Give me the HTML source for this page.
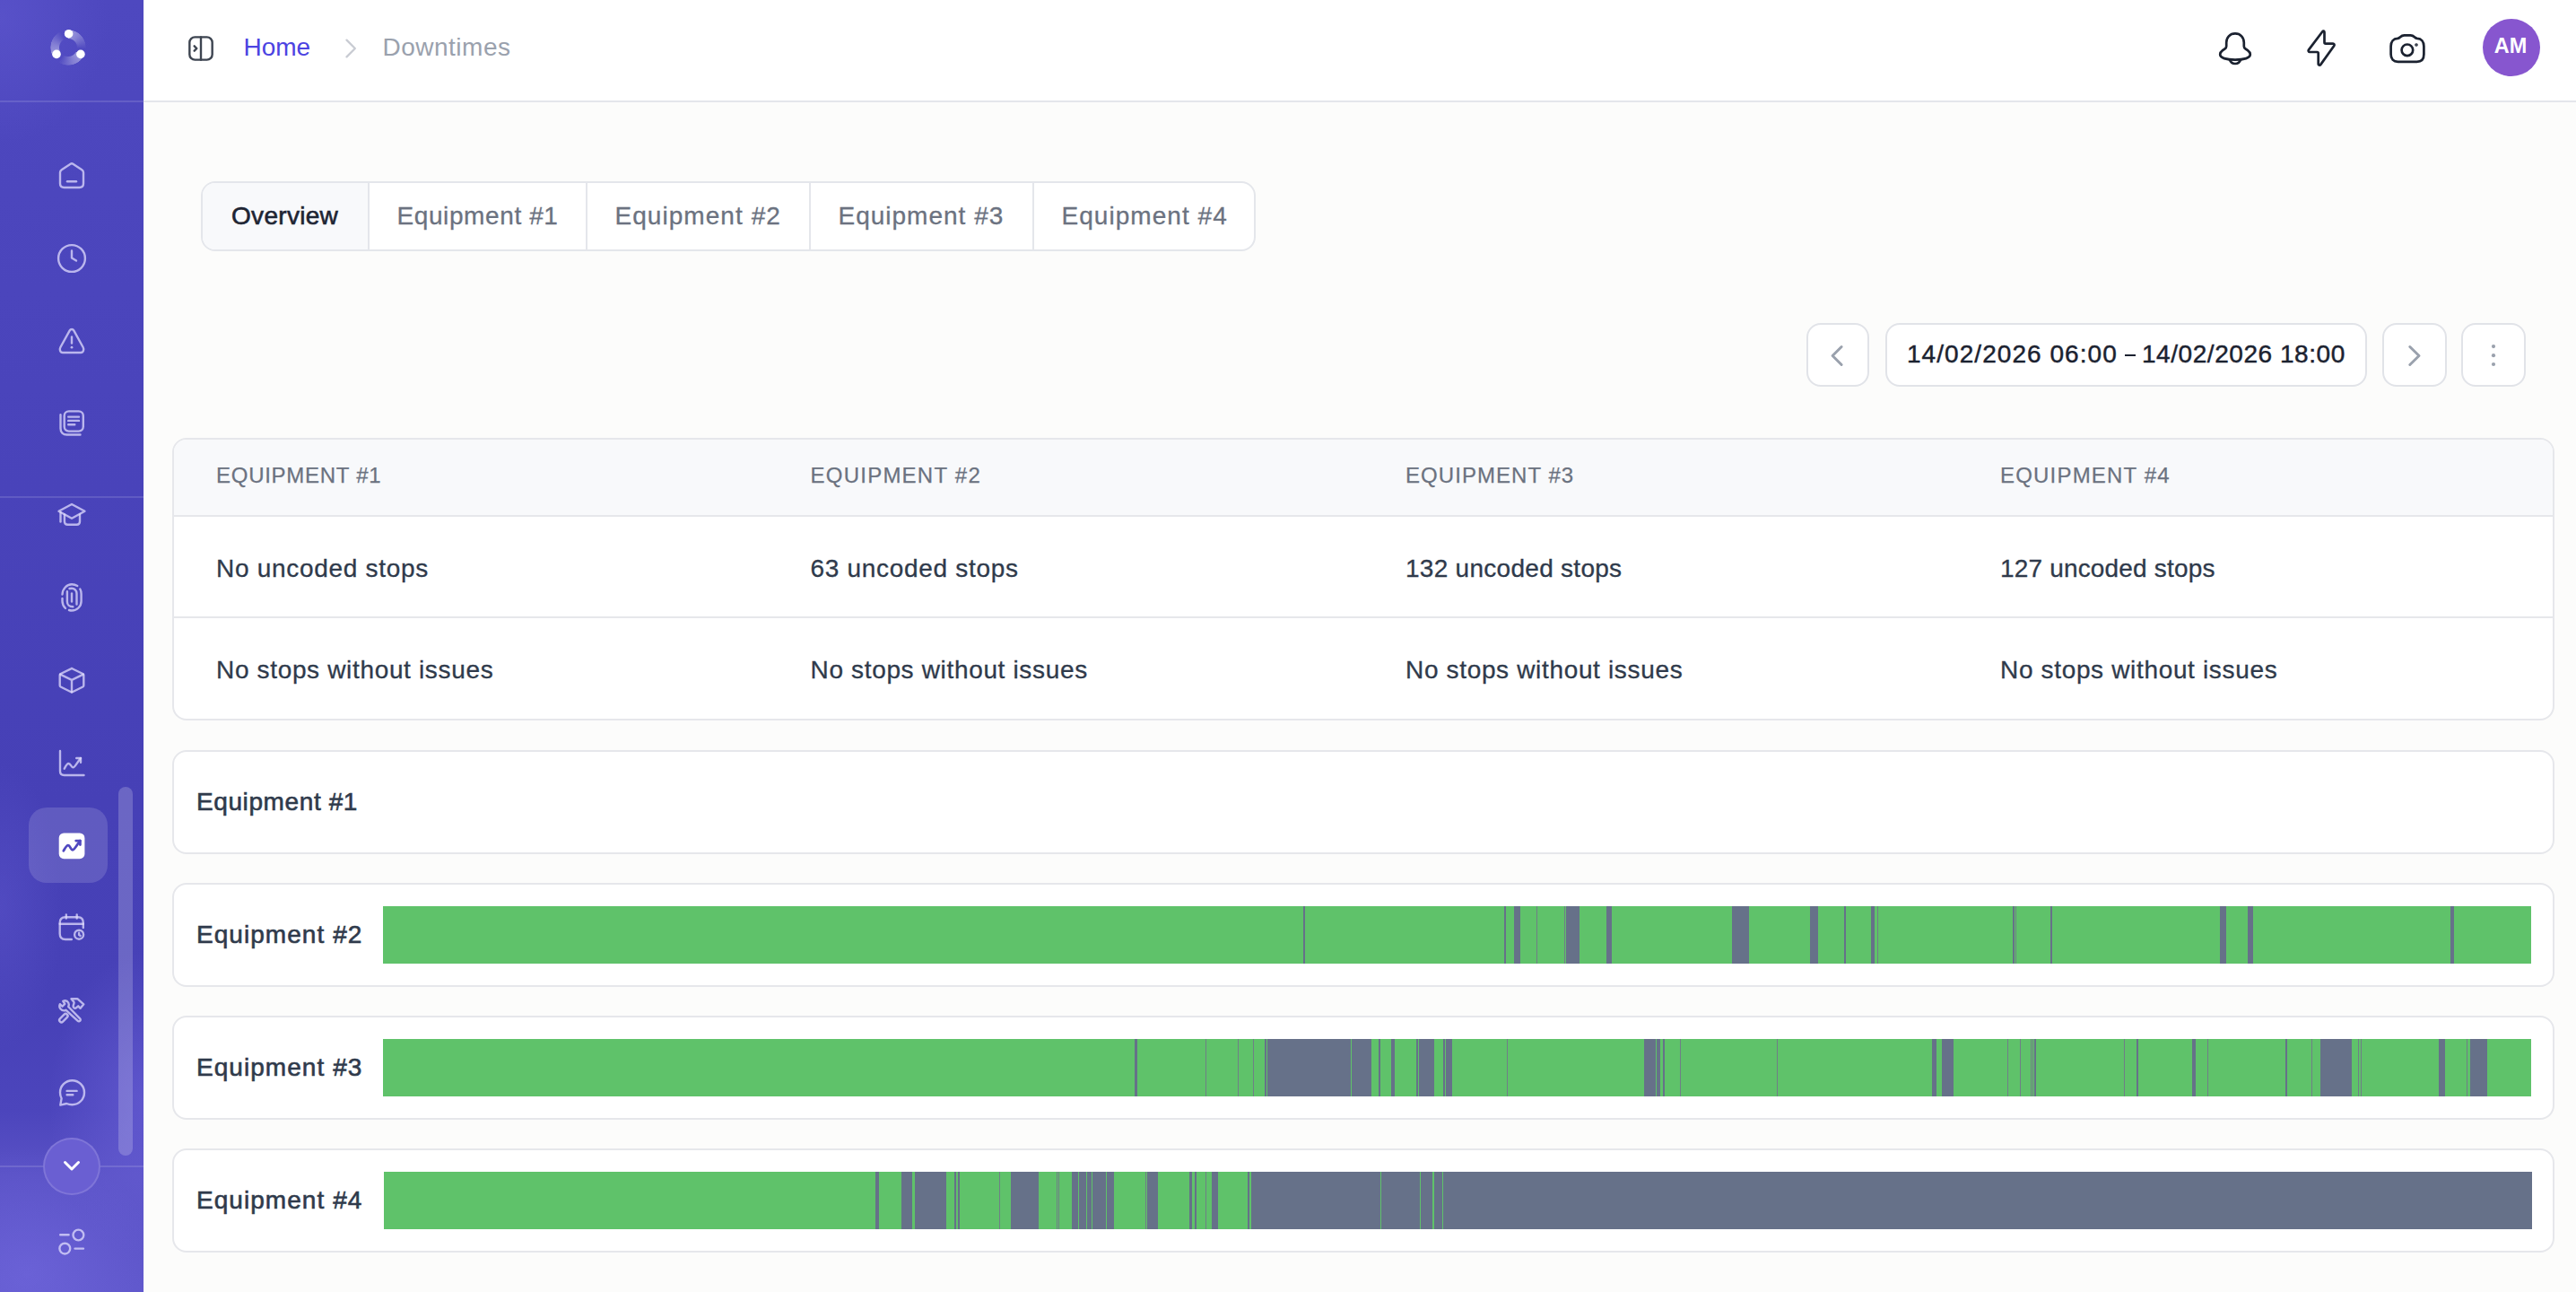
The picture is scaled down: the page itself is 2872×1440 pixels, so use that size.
<!DOCTYPE html>
<html><head><meta charset="utf-8"><style>
*{box-sizing:border-box;margin:0;padding:0}
html,body{width:2872px;height:1440px;overflow:hidden;background:#fcfcfb;font-family:"Liberation Sans",sans-serif}
.side{position:absolute;left:0;top:0;width:160px;height:1440px;overflow:hidden;
background:radial-gradient(ellipse 120px 140px at 0px 20px,rgba(100,92,212,.45),rgba(100,92,212,0)),radial-gradient(ellipse 110px 170px at 165px 1230px,rgba(112,102,220,.55),rgba(112,102,220,0)),radial-gradient(ellipse 150px 140px at 30px 1420px,rgba(118,108,226,.5),rgba(118,108,226,0)),radial-gradient(ellipse 70px 160px at 0px 1010px,rgba(100,92,210,.35),rgba(100,92,210,0)),linear-gradient(180deg,#4e48bf 0%,#4a44bb 30%,#4640b6 62%,#4741b7 78%,#4c45bc 86%,#5a52c6 91%,#5f57cb 100%)}
.side .hl{position:absolute;left:0;width:160px;height:2px;background:rgba(255,255,255,.13)}
.sic{position:absolute;left:60px;width:40px;height:40px;color:rgba(222,218,252,.76)}
.sic svg{width:40px;height:40px;display:block}
.active{position:absolute;left:32px;top:900px;width:88px;height:84px;border-radius:20px;background:rgba(255,255,255,.14)}
.scroll{position:absolute;left:132px;top:877px;width:16px;height:411px;border-radius:8px;background:rgba(255,255,255,.2)}
.chev{position:absolute;left:48px;top:1268px;width:64px;height:64px;border-radius:50%;background:#6a5fd2;border:2px solid rgba(255,255,255,.14)}
.header{position:absolute;left:160px;top:0;width:2712px;height:114px;background:#fff;border-bottom:2px solid #e4e6eb}
.t{position:absolute;white-space:nowrap;line-height:1}
.tabs{position:absolute;left:224px;top:202px;height:78px;border:2px solid #e4e6eb;border-radius:16px;background:#fff;overflow:hidden;display:flex}
.tab{height:74px;border-right:2px solid #e4e6eb;position:relative}
.tab:last-child{border-right:none}
.btn{position:absolute;top:360px;height:71px;border:2px solid #e1e3e8;border-radius:16px;background:#fff}
.table{position:absolute;left:192px;top:488px;width:2656px;height:315px;border:2px solid #e6e7eb;border-radius:16px;background:#fff;overflow:hidden}
.thead{position:absolute;left:0;top:0;width:100%;height:86px;background:#f8f9fb;border-bottom:2px solid #e6e7eb}
.rowb{position:absolute;left:0;width:100%;height:2px;background:#e6e7eb}
.panel{position:absolute;left:192px;width:2656px;height:116px;border:2px solid #e6e7eb;border-radius:16px;background:#fff}
.bar{position:absolute;height:64px;background:#5fc26a}
.seg{position:absolute;top:0;height:64px;background:#667189}
.thin{background:#6f7f86}
.hic{position:absolute;top:32px;width:44px;height:44px;color:#1b2230}
.hic svg{width:44px;height:44px;display:block}
</style></head><body>
<div class="side">
<div style="position:absolute;left:56.2px;top:32.7px;width:40px;height:40px;border-radius:50%;background:conic-gradient(from 0deg,rgba(255,255,255,.45) 0deg,rgba(255,255,255,.3) 40deg,rgba(255,255,255,0) 95deg,rgba(255,255,255,0) 120deg,rgba(255,255,255,.45) 120deg,rgba(255,255,255,.3) 160deg,rgba(255,255,255,0) 215deg,rgba(255,255,255,0) 240deg,rgba(255,255,255,.45) 240deg,rgba(255,255,255,.3) 280deg,rgba(255,255,255,0) 335deg,rgba(255,255,255,0) 360deg);-webkit-mask:radial-gradient(circle closest-side,transparent 9.5px,#000 10.5px,#000 19.3px,transparent 20px);mask:radial-gradient(circle closest-side,transparent 9.5px,#000 10.5px,#000 19.3px,transparent 20px)"></div>
<svg style="position:absolute;left:46px;top:23px" width="60" height="60" viewBox="0 0 60 60"><circle cx="30.6" cy="14.7" r="4.8" fill="#fff"/><circle cx="17" cy="37.4" r="4.8" fill="#fff"/><circle cx="43.9" cy="37.4" r="4.8" fill="#fff"/></svg>
<div class="hl" style="top:112px"></div>
<div class="hl" style="top:553px"></div>
<div class="hl" style="top:1299px"></div>
<div class="active"></div>
<div class="scroll"></div>
<div class="sic" style="top:175px"><svg viewBox="0 0 40 40" fill="none" stroke="currentColor" stroke-width="2.4" stroke-linecap="round" stroke-linejoin="round"><path d="M18.6 7.8 L8.7 14.2 C7.6 14.9 7 16 7 17.3 V29.5 C7 32.3 8.8 34 11.5 34 H28.5 C31.2 34 33 32.3 33 29.5 V17.3 C33 16 32.4 14.9 31.3 14.2 L21.4 7.8 C20.5 7.2 19.5 7.2 18.6 7.8 Z"/><path d="M15 27.3 H25"/></svg></div><div class="sic" style="top:268px"><svg viewBox="0 0 40 40" fill="none" stroke="currentColor" stroke-width="2.4" stroke-linecap="round" stroke-linejoin="round"><circle cx="20" cy="20" r="14.9"/><path d="M20 11.5 V19.5 L25 22.6"/></svg></div><div class="sic" style="top:360px"><svg viewBox="0 0 40 40" fill="none" stroke="currentColor" stroke-width="2.4" stroke-linecap="round" stroke-linejoin="round"><path d="M17.7 8.4 L7.4 27 C6.1 29.4 6.9 33 10 33 H30 C33.1 33 33.9 29.4 32.6 27 L22.3 8.4 C21.3 6.6 18.7 6.6 17.7 8.4 Z"/><path d="M20 15.5 V22.5"/><path d="M20 27.2 h0.01" stroke-width="2.8"/></svg></div><div class="sic" style="top:451px"><svg viewBox="0 0 40 40" fill="none" stroke="currentColor" stroke-width="2.4" stroke-linecap="round" stroke-linejoin="round"><path d="M7.5 11.2 V26.5 C7.5 30.8 10.2 33.5 14.5 33.5 H29.5"/><rect x="11.7" y="7.4" width="21.1" height="22.2" rx="5"/><path d="M16.2 13.6 H28 M16.2 17.9 H28 M16.2 22.3 H23.3"/></svg></div><div class="sic" style="top:553px"><svg viewBox="0 0 40 40" fill="none" stroke="currentColor" stroke-width="2.4" stroke-linecap="round" stroke-linejoin="round"><path d="M5.5 16.8 L20 9 L34.5 16.8 L20 24.8 Z"/><path d="M11.9 20.5 V28.2 C11.9 30.5 13.2 31.7 15.5 31.7 H25.5 C27.8 31.7 29 30.5 29 28.2 V20.5"/><path d="M7.5 18 V28.6"/></svg></div><div class="sic" style="top:646px"><svg viewBox="0 0 40 40" fill="none" stroke="currentColor" stroke-width="2.4" stroke-linecap="round" stroke-linejoin="round"><path d="M9.5 16.5 C9.8 10 14.5 5.3 20 5.3 C22.5 5.3 24.6 6 26.3 7"/><path d="M29.3 10.5 C30.2 12 30.6 14 30.6 16 V24 C30.6 30 25.8 34.5 20 34.5 C19 34.5 18 34.3 17 34"/><path d="M9.5 21 V24 C9.5 27 10.8 29.8 13 32"/><path d="M17.5 10 C18.3 9.8 19.2 9.7 20 9.7 C23 9.7 25.5 12.2 25.5 15.5 V27.5"/><path d="M14.9 13.2 V24.5 C14.9 27.8 17.3 30.3 21.3 30.3"/><path d="M20 15.5 V24.5"/></svg></div><div class="sic" style="top:738px"><svg viewBox="0 0 40 40" fill="none" stroke="currentColor" stroke-width="2.4" stroke-linecap="round" stroke-linejoin="round"><path d="M20 7 L32.4 13 C33 13.3 33.3 13.8 33.3 14.5 V26 C33.3 26.7 33 27.2 32.4 27.5 L20.8 33.3 C20.3 33.6 19.7 33.6 19.2 33.3 L7.6 27.5 C7 27.2 6.7 26.7 6.7 26 V14.5 C6.7 13.8 7 13.3 7.6 13 L19.2 7.3 C19.7 7 20.3 7 20.8 7.3 Z"/><path d="M7.2 13.6 L20 19.8 L32.8 13.6 M20 19.8 V33.3"/></svg></div><div class="sic" style="top:831px"><svg viewBox="0 0 40 40" fill="none" stroke="currentColor" stroke-width="2.4" stroke-linecap="round" stroke-linejoin="round"><path d="M7 6 V28.5 C7 31.5 8.5 33 11.5 33 H33.5"/><path d="M11.7 25.8 C13 23.3 14.5 20 16.5 20 C18.8 20 19.3 24.4 21.5 24.4 C23.5 24.4 25.5 19.5 30 14"/><path d="M25.2 14 H30 V18.8"/></svg></div><div class="sic" style="top:1014px"><svg viewBox="0 0 40 40" fill="none" stroke="currentColor" stroke-width="2.4" stroke-linecap="round" stroke-linejoin="round"><path d="M19.8 33 H13 C9 33 6.7 30.7 6.7 26.7 V14.5 C6.7 10.5 9 8.2 13 8.2 H27 C31 8.2 32.8 10.5 32.8 14.5 V20"/><path d="M6.7 15.8 H32.8 M13.8 5.5 V9.5 M25.7 5.5 V9.5"/><circle cx="28.1" cy="27.7" r="5"/><path d="M28.1 25.8 V27.9 L29.6 28.9"/></svg></div><div class="sic" style="top:1106px"><svg viewBox="0 0 40 40" fill="none" stroke="currentColor" stroke-width="2.4" stroke-linecap="round" stroke-linejoin="round"><path d="M10.3 9.8 C12.5 9 15 9.5 16.2 11.5 C17 13 16.8 15 16.2 16 L29.2 29.3 C30.2 30.3 29.8 31.8 28.6 32.2 C27.8 32.5 27 32.2 26.5 31.7 L13.6 19.8 C11.8 20.6 9 20.2 7.5 18.5 C6.3 17 6 15 6.8 13.2 L9.5 15.7 L12.3 13 Z"/><path d="M19.5 7.2 H26.3 L33.3 13.3 L29.6 17.8 L27.2 15.3 L24.5 17.6 C23 18 21.6 17 21.6 15.5 C21.6 13.5 23 12.5 22.5 11 Z"/><path d="M10.13 32.63 L14.83 27.93 A2.3 2.3 0 0 0 11.57 24.67 L6.87 29.37 A2.3 2.3 0 0 0 10.13 32.63 Z"/></svg></div><div class="sic" style="top:1198px"><svg viewBox="0 0 40 40" fill="none" stroke="currentColor" stroke-width="2.4" stroke-linecap="round" stroke-linejoin="round"><path d="M20.5 33.2 C28 33.2 34 27.2 34 19.7 C34 12.2 28 6.2 20.5 6.2 C13 6.2 7 12.2 7 19.7 C7 22 7.6 24.3 8.6 26.2 L7.3 33.6 L14.2 32 C16 32.8 18.2 33.2 20.5 33.2 Z"/><path d="M14.6 17.9 H25.6 M14.6 22.2 H21.3"/></svg></div><div class="sic" style="top:1364px"><svg viewBox="0 0 40 40" fill="none" stroke="currentColor" stroke-width="2.4" stroke-linecap="round" stroke-linejoin="round"><path d="M7.2 12.3 H16.6 M23.5 27.6 H33"/><circle cx="27.4" cy="12.5" r="5.9"/><circle cx="12.3" cy="27.6" r="5.9"/></svg></div>
<div style="position:absolute;left:60px;top:923px;width:40px;height:40px">
<svg width="40" height="40" viewBox="0 0 40 40"><rect x="5.7" y="5.5" width="28.7" height="28.7" rx="5.5" fill="#fff"/><path d="M10.8 25.4 C12.5 22.5 14 19.2 16 19.2 C18.3 19.2 18.8 24.3 21 24.3 C23 24.3 25.3 19.3 29.3 14" fill="none" stroke="#5048c0" stroke-width="2.8" stroke-linecap="round" stroke-linejoin="round"/><path d="M24.7 14.1 H29.4 V18.6" fill="none" stroke="#5048c0" stroke-width="2.8" stroke-linecap="round" stroke-linejoin="round"/></svg>
</div>
<div class="chev"><svg style="position:absolute;left:-2px;top:-2px" width="64" height="64" viewBox="0 0 64 64" fill="none" stroke="#fff" stroke-width="3" stroke-linecap="round" stroke-linejoin="round"><path d="M24.5 27.5 L32 35 L39.5 27.5"/></svg></div>
</div>

<div class="header">
<svg style="position:absolute;left:48px;top:38px" width="32" height="32" viewBox="0 0 24 24" fill="none" stroke="#3d4450" stroke-width="1.8" stroke-linecap="round" stroke-linejoin="round"><rect x="2.5" y="2.5" width="19" height="19" rx="4.5"/><path d="M12 2.5V21.5"/><path d="M6.5 10L8.5 12L6.5 14"/></svg>
<div class="t" style="left:111.5px;top:38.5px;font-size:28px;color:#4c43e2">Home</div>
<svg style="position:absolute;left:216px;top:40px" width="28" height="28" viewBox="0 0 24 24" fill="none" stroke="#c9ccd3" stroke-width="2" stroke-linecap="round" stroke-linejoin="round"><path d="M9 4L17 12L9 20"/></svg>
<div class="t" style="left:266.5px;top:38.5px;font-size:28px;letter-spacing:0.5px;color:#9aa1ad">Downtimes</div>
<svg style="position:absolute;left:2306px;top:28px" width="52" height="52" viewBox="0 0 52 52" fill="none" stroke="#1b2230" stroke-width="2.7" stroke-linecap="round" stroke-linejoin="round"><path d="M26 9.4 C20 9.4 16.2 13.8 16.2 19.5 V23.5 C16.2 24.7 15.6 25.6 14.6 26.3 L12 28.2 C10 29.7 9.2 31 9.2 32.6 C9.2 35 11.2 36.3 13.8 37.1 C17.5 38.2 21.7 38.6 26 38.6 C30.3 38.6 34.5 38.2 38.2 37.1 C40.8 36.3 42.8 35 42.8 32.6 C42.8 31 42 29.7 40 28.2 L37.4 26.3 C36.4 25.6 35.8 24.7 35.8 23.5 V19.5 C35.8 13.8 32 9.4 26 9.4 Z"/><path d="M19.8 38.4 C20.8 41.3 23.2 43 26 43 C28.8 43 31.2 41.3 32.2 38.4"/></svg>
<svg style="position:absolute;left:2402px;top:28px" width="52" height="52" viewBox="0 0 52 52" fill="none" stroke="#1b2230" stroke-width="2.7" stroke-linecap="round" stroke-linejoin="round"><path d="M27.3 7.2 L11.9 27.6 C11.2 28.6 11.9 30 13.1 30 H21.3 C22.1 30 22.7 30.6 22.7 31.4 V43.2 C22.7 44.6 24.4 45.2 25.2 44.1 L40.3 23 C41 22 40.3 20.6 39.1 20.6 H30.9 C30.1 20.6 29.5 20 29.5 19.2 V8 C29.5 6.5 28.1 6.1 27.3 7.2 Z"/></svg>
<svg style="position:absolute;left:2498px;top:28px" width="52" height="52" viewBox="0 0 52 52" fill="none" stroke="#1b2230" stroke-width="2.7" stroke-linecap="round" stroke-linejoin="round"><path d="M7.6 23.5 C7.6 18.5 10.5 15 15 14.8 C16.3 14.7 17.3 14 18.1 13.2 C19.4 11.9 20.8 11.3 22.6 11.3 H29.4 C31.2 11.3 32.6 11.9 33.9 13.2 C34.7 14 35.7 14.7 37 14.8 C41.5 15 44.4 18.5 44.4 23.5 V32.5 C44.4 37.7 41.6 40.8 36.5 40.8 H15.5 C10.4 40.8 7.6 37.7 7.6 32.5 Z"/><circle cx="25.9" cy="27.8" r="6.3"/><circle cx="36" cy="22" r="0.6" fill="#1b2230" stroke-width="2.4"/></svg>
<div style="position:absolute;left:2608px;top:21px;width:64px;height:64px;border-radius:50%;background:#8756cf"></div>
<div class="t" style="left:2620px;top:40px;font-size:23.5px;font-weight:bold;color:#fff;width:38px;text-align:center">AM</div>
</div>

<div class="tabs">
<div class="tab" style="width:186px;background:#f8f9fb"><div class="t" style="left:32px;top:23px;font-size:28px;letter-spacing:0.3px;-webkit-text-stroke:0.6px #1d2433;color:#1d2433">Overview</div></div>
<div class="tab" style="width:243px"><div class="t" style="left:30.5px;top:23px;font-size:28px;letter-spacing:0.6px;-webkit-text-stroke:0.3px #6b7280;color:#6b7280">Equipment #1</div></div>
<div class="tab" style="width:249px"><div class="t" style="left:30.5px;top:23px;font-size:28px;letter-spacing:1.05px;-webkit-text-stroke:0.3px #6b7280;color:#6b7280">Equipment #2</div></div>
<div class="tab" style="width:249px"><div class="t" style="left:30.5px;top:23px;font-size:28px;letter-spacing:1.0px;-webkit-text-stroke:0.3px #6b7280;color:#6b7280">Equipment #3</div></div>
<div class="tab" style="width:245px"><div class="t" style="left:30.5px;top:23px;font-size:28px;letter-spacing:1.04px;-webkit-text-stroke:0.3px #6b7280;color:#6b7280">Equipment #4</div></div>
</div>

<div class="btn" style="left:2014px;width:70px"><svg style="position:absolute;left:-2px;top:-2px" width="72" height="72" viewBox="0 0 72 72" fill="none" stroke="#9aa1ad" stroke-width="3" stroke-linecap="round" stroke-linejoin="round"><path d="M39.1 26.5 L29.1 36.5 L39.1 46.5"/></svg></div>
<div class="btn" style="left:2102px;width:537px">
<div class="t" style="left:22px;top:19px;font-size:28px;letter-spacing:1.05px;-webkit-text-stroke:0.45px #1b2230;color:#1b2230">14/02/2026 06:00</div>
<div style="position:absolute;left:265px;top:32.5px;width:12px;height:2.8px;background:#1b2230"></div>
<div class="t" style="left:284px;top:19px;font-size:28px;letter-spacing:0.55px;-webkit-text-stroke:0.45px #1b2230;color:#1b2230">14/02/2026 18:00</div>
</div>
<div class="btn" style="left:2656px;width:72px"><svg style="position:absolute;left:-2px;top:-2px" width="72" height="72" viewBox="0 0 72 72" fill="none" stroke="#9aa1ad" stroke-width="3" stroke-linecap="round" stroke-linejoin="round"><path d="M30.8 26.5 L41 36.5 L30.8 46.5"/></svg></div>
<div class="btn" style="left:2744px;width:72px"><svg style="position:absolute;left:-2px;top:-2px" width="72" height="72" viewBox="0 0 72 72" fill="#9aa1ad"><circle cx="36" cy="26.1" r="2.1"/><circle cx="36" cy="36.2" r="2.1"/><circle cx="36" cy="46" r="2.1"/></svg></div>

<div class="table">
<div class="thead"></div>
<div class="rowb" style="top:197px"></div>
<div class="t" style="left:47px;top:28px;font-size:24px;letter-spacing:0.73px;-webkit-text-stroke:0.25px #6b7280;color:#6b7280">EQUIPMENT #1</div><div class="t" style="left:47px;top:129.5px;font-size:28px;letter-spacing:0.7px;-webkit-text-stroke:0.3px #2f3a4b;color:#2f3a4b">No uncoded stops</div><div class="t" style="left:47px;top:242.5px;font-size:28px;letter-spacing:0.66px;-webkit-text-stroke:0.3px #2f3a4b;color:#2f3a4b">No stops without issues</div><div class="t" style="left:709.5px;top:28px;font-size:24px;letter-spacing:1.24px;-webkit-text-stroke:0.25px #6b7280;color:#6b7280">EQUIPMENT #2</div><div class="t" style="left:709.5px;top:129.5px;font-size:28px;letter-spacing:0.7px;-webkit-text-stroke:0.3px #2f3a4b;color:#2f3a4b">63 uncoded stops</div><div class="t" style="left:709.5px;top:242.5px;font-size:28px;letter-spacing:0.66px;-webkit-text-stroke:0.3px #2f3a4b;color:#2f3a4b">No stops without issues</div><div class="t" style="left:1373px;top:28px;font-size:24px;letter-spacing:1.05px;-webkit-text-stroke:0.25px #6b7280;color:#6b7280">EQUIPMENT #3</div><div class="t" style="left:1373px;top:129.5px;font-size:28px;letter-spacing:0.28px;-webkit-text-stroke:0.3px #2f3a4b;color:#2f3a4b">132 uncoded stops</div><div class="t" style="left:1373px;top:242.5px;font-size:28px;letter-spacing:0.66px;-webkit-text-stroke:0.3px #2f3a4b;color:#2f3a4b">No stops without issues</div><div class="t" style="left:2036px;top:28px;font-size:24px;letter-spacing:1.19px;-webkit-text-stroke:0.25px #6b7280;color:#6b7280">EQUIPMENT #4</div><div class="t" style="left:2036px;top:129.5px;font-size:28px;letter-spacing:0.175px;-webkit-text-stroke:0.3px #2f3a4b;color:#2f3a4b">127 uncoded stops</div><div class="t" style="left:2036px;top:242.5px;font-size:28px;letter-spacing:0.66px;-webkit-text-stroke:0.3px #2f3a4b;color:#2f3a4b">No stops without issues</div></div>
<div class="panel" style="top:836px"><div class="t" style="left:25px;top:42px;font-size:28px;letter-spacing:0.6px;-webkit-text-stroke:0.6px #2f3a4b;color:#2f3a4b">Equipment #1</div></div><div class="panel" style="top:984px"><div class="t" style="left:25px;top:42px;font-size:28px;letter-spacing:1.05px;-webkit-text-stroke:0.6px #2f3a4b;color:#2f3a4b">Equipment #2</div></div><div class="panel" style="top:1132px"><div class="t" style="left:25px;top:42px;font-size:28px;letter-spacing:1.05px;-webkit-text-stroke:0.6px #2f3a4b;color:#2f3a4b">Equipment #3</div></div><div class="panel" style="top:1280px"><div class="t" style="left:25px;top:42px;font-size:28px;letter-spacing:1.05px;-webkit-text-stroke:0.6px #2f3a4b;color:#2f3a4b">Equipment #4</div></div><div class="bar" style="left:427px;top:1010px;width:2395px"><i class="seg" style="left:1026px;width:2px"></i><i class="seg" style="left:1250px;width:2px"></i><i class="seg" style="left:1261px;width:7px"></i><i class="seg thin" style="left:1286px;width:1px"></i><i class="seg thin" style="left:1317px;width:1px"></i><i class="seg" style="left:1319px;width:15px"></i><i class="seg" style="left:1364px;width:6px"></i><i class="seg" style="left:1504px;width:19px"></i><i class="seg" style="left:1591px;width:9px"></i><i class="seg" style="left:1629px;width:2px"></i><i class="seg" style="left:1659px;width:4px"></i><i class="seg thin" style="left:1666px;width:1px"></i><i class="seg" style="left:1817px;width:2px"></i><i class="seg thin" style="left:1820px;width:1px"></i><i class="seg" style="left:1859px;width:2px"></i><i class="seg" style="left:2048px;width:7px"></i><i class="seg" style="left:2079px;width:6px"></i><i class="seg" style="left:2305px;width:4px"></i></div><div class="bar" style="left:427px;top:1158px;width:2395px"><i class="seg" style="left:838px;width:3px"></i><i class="seg thin" style="left:917px;width:1px"></i><i class="seg thin" style="left:953px;width:1px"></i><i class="seg thin" style="left:970px;width:1px"></i><i class="seg" style="left:983px;width:2px"></i><i class="seg" style="left:986px;width:93px"></i><i class="seg" style="left:1080px;width:22px"></i><i class="seg" style="left:1110px;width:2px"></i><i class="seg" style="left:1124px;width:4px"></i><i class="seg" style="left:1152px;width:2px"></i><i class="seg" style="left:1155px;width:17px"></i><i class="seg" style="left:1182px;width:2px"></i><i class="seg" style="left:1185px;width:7px"></i><i class="seg thin" style="left:1253px;width:1px"></i><i class="seg" style="left:1406px;width:13px"></i><i class="seg" style="left:1420px;width:4px"></i><i class="seg" style="left:1427px;width:2px"></i><i class="seg thin" style="left:1446px;width:1px"></i><i class="seg thin" style="left:1554px;width:1px"></i><i class="seg" style="left:1727px;width:5px"></i><i class="seg" style="left:1738px;width:13px"></i><i class="seg thin" style="left:1811px;width:1px"></i><i class="seg thin" style="left:1825px;width:1px"></i><i class="seg thin" style="left:1837px;width:1px"></i><i class="seg thin" style="left:1839px;width:1px"></i><i class="seg" style="left:1841px;width:2px"></i><i class="seg thin" style="left:1941px;width:1px"></i><i class="seg" style="left:1955px;width:2px"></i><i class="seg" style="left:2017px;width:4px"></i><i class="seg thin" style="left:2034px;width:1px"></i><i class="seg" style="left:2121px;width:2px"></i><i class="seg thin" style="left:2150px;width:1px"></i><i class="seg" style="left:2160px;width:35px"></i><i class="seg thin" style="left:2202px;width:1px"></i><i class="seg thin" style="left:2205px;width:1px"></i><i class="seg" style="left:2292px;width:7px"></i><i class="seg thin" style="left:2323px;width:1px"></i><i class="seg" style="left:2327px;width:19px"></i></div><div class="bar" style="left:428px;top:1306px;width:2395px"><i class="seg" style="left:548px;width:4px"></i><i class="seg" style="left:577px;width:12px"></i><i class="seg" style="left:592px;width:35px"></i><i class="seg" style="left:636px;width:2px"></i><i class="seg" style="left:640px;width:2px"></i><i class="seg thin" style="left:686px;width:1px"></i><i class="seg" style="left:699px;width:31px"></i><i class="seg thin" style="left:750px;width:1px"></i><i class="seg thin" style="left:752px;width:1px"></i><i class="seg" style="left:767px;width:7px"></i><i class="seg" style="left:775px;width:8px"></i><i class="seg" style="left:784px;width:5px"></i><i class="seg" style="left:790px;width:15px"></i><i class="seg" style="left:806px;width:8px"></i><i class="seg thin" style="left:849px;width:1px"></i><i class="seg" style="left:851px;width:12px"></i><i class="seg" style="left:898px;width:3px"></i><i class="seg" style="left:904px;width:2px"></i><i class="seg thin" style="left:916px;width:1px"></i><i class="seg" style="left:923px;width:7px"></i><i class="seg" style="left:963px;width:2px"></i><i class="seg" style="left:967px;width:144px"></i><i class="seg" style="left:1112px;width:43px"></i><i class="seg" style="left:1156px;width:13px"></i><i class="seg" style="left:1171px;width:9px"></i><i class="seg" style="left:1181px;width:1214px"></i></div>
</body></html>
